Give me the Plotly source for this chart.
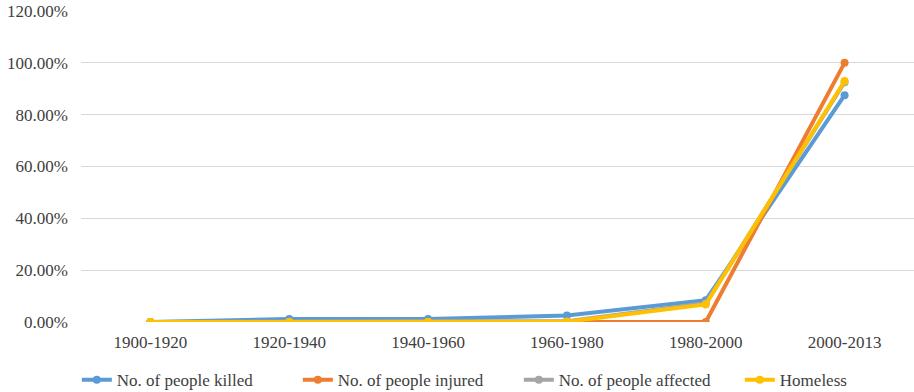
import plotly.graph_objects as go

periods = ["1900-1920", "1920-1940", "1940-1960", "1960-1980", "1980-2000", "2000-2013"]
killed = [0.000, 0.012, 0.012, 0.025, 0.084, 0.875]
injured = [0.000, 0.000, 0.000, 0.000, 0.000, 1.000]
affected = [0.000, 0.001, 0.001, 0.003, 0.072, 0.925]
homeless = [0.000, 0.000, 0.000, 0.001, 0.068, 0.930]

series = [
    ("No. of people killed", killed, "#5B9BD5"),
    ("No. of people injured", injured, "#ED7D31"),
    ("No. of people affected", affected, "#A5A5A5"),
    ("Homeless", homeless, "#FFC000"),
]

fig = go.Figure()
for name, vals, color in series:
    fig.add_trace(go.Scatter(
        x=periods, y=vals, name=name, mode="lines+markers",
        line=dict(color=color, width=4),
        marker=dict(color=color, size=8),
    ))

serif = "Liberation Serif"
font = dict(family=serif, size=17, color="#404040")

fig.update_layout(
    width=914, height=392,
    margin=dict(l=81, r=0, t=11, b=70, autoexpand=False),
    paper_bgcolor="white", plot_bgcolor="white",
    font=font,
    showlegend=True,
    legend=dict(orientation="h", x=-0.005, xanchor="left", y=-0.187, yanchor="middle",
                font=dict(family=serif, size=17, color="#404040"),
                itemwidth=30, tracegroupgap=0,
                entrywidth=176, entrywidthmode="pixels"),
    xaxis=dict(type="category", range=[-0.5, 5.5], showgrid=False, showline=False,
               ticks="", zeroline=False, ticklabelstandoff=8,
               tickfont=dict(family=serif, size=17, color="#404040")),
    yaxis=dict(range=[0, 1.2], dtick=0.2, tickformat=".2%", showgrid=True,
               gridcolor="#d9d9d9", gridwidth=1.3, zeroline=False, showline=False,
               ticks="", ticklabelstandoff=12,
               tickfont=dict(family=serif, size=17, color="#404040")),
)

fig.write_html("out.html")
